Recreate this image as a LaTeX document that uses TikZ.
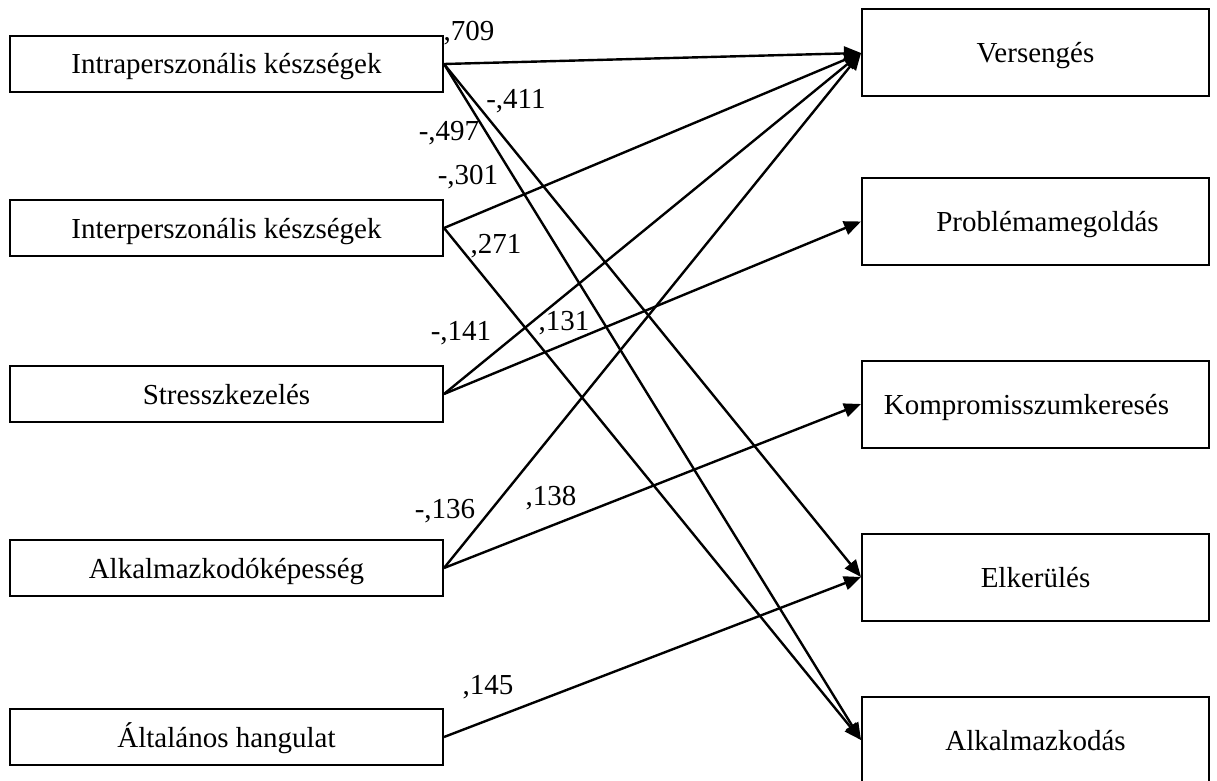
\documentclass[tikz,border=0pt]{standalone}
\usepackage{fontspec}
\setmainfont{Liberation Serif}
\usetikzlibrary{arrows.meta}

\begin{document}
\begin{tikzpicture}[x=1pt, y=-1pt,
  predictor/.style={draw, line width=2pt, minimum width=433pt, minimum height=56pt,
        inner sep=0pt, text height=20pt, text depth=0pt, font=\fontsize{29}{34}\selectfont},
  outcome/.style={draw, line width=2pt, minimum width=347pt, minimum height=87pt,
        inner sep=0pt, text height=20pt, text depth=0pt, font=\fontsize{29}{34}\selectfont},
  link/.style={line width=2.4pt, -{Triangle[length=17pt, width=14pt]}},
  coef/.style={inner sep=0pt, font=\fontsize{29}{34}\selectfont}]
  \useasboundingbox (0,0) rectangle (1217,781);

  % predictors
  \node[predictor] (intra)  at (226.5,64)  {Intraperszonális készségek};
  \node[predictor] (inter)  at (226.5,228) {Interperszonális készségek};
  \node[predictor] (stress) at (226.5,394) {Stresszkezelés};
  \node[predictor] (adapt)  at (226.5,568) {Alkalmazkodóképesség};
  \node[predictor] (mood)   at (226.5,737) {Általános hangulat};

  % conflict styles
  \node[outcome] (compet)  at (1035.5,53)  {Versengés};
  \node[outcome] (problem) at (1035.5,221.5) {\hspace*{24pt}Problémamegoldás};
  \node[outcome] (comprom) at (1035.5,404) {Kompromisszumkeresés\hspace*{18pt}};
  \node[outcome] (avoid)   at (1035.5,577) {Elkerülés};
  \node[outcome] (accom)   at (1035.5,740) {Alkalmazkodás};

  \draw[link] (intra.east)  -- (compet.west);
  \draw[link] (intra.east)  -- (avoid.west);
  \draw[link] (intra.east)  -- (accom.west);
  \draw[link] (inter.east)  -- (compet.west);
  \draw[link] (inter.east)  -- (accom.west);
  \draw[link] (stress.east) -- (compet.west);
  \draw[link] (stress.east) -- (problem.west);
  \draw[link] (adapt.east)  -- (compet.west);
  \draw[link] (adapt.east)  -- (comprom.west);
  \draw[link] (mood.east)   -- (avoid.west);

  % path coefficients
  \node[coef] (c1)  at (469,33)  {,709};
  \node[coef] (c2)  at (516,101) {-,411};
  \node[coef] (c3)  at (449,133) {-,497};
  \node[coef] (c4)  at (468,177) {-,301};
  \node[coef] (c5)  at (496,246) {,271};
  \node[coef] (c6)  at (461,333) {-,141};
  \node[coef] (c7)  at (564,323) {,131};
  \node[coef] (c8)  at (445,511) {-,136};
  \node[coef] (c9)  at (551,498) {,138};
  \node[coef] (c10) at (488,687) {,145};
\end{tikzpicture}
\end{document}
